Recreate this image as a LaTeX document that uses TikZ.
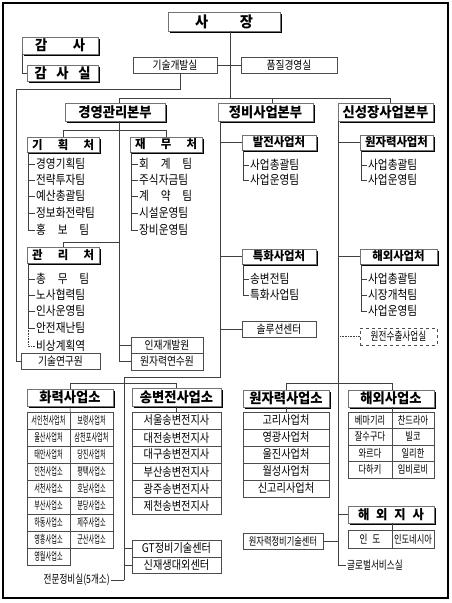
\documentclass[tikz,border=0pt]{standalone}
\usepackage{fontspec}
\setmainfont{Noto Sans CJK KR}
\newfontfamily\krm{Noto Sans CJK KR}[FakeStretch=0.85]
\newfontfamily\krc{Noto Sans CJK KR}[FakeStretch=0.75]
\newfontfamily\krn{Noto Sans CJK KR}[FakeStretch=0.56]
\newfontfamily\krb{Noto Sans CJK KR}[FakeStretch=0.95]
\usetikzlibrary{shadows,calc}
\newcommand\fs[1]{\fontsize{#1}{#1}\selectfont}
\newcommand\OB[7][]{\node[#2,minimum width={#5pt-#3pt},minimum height={#6pt-#4pt},#1] (#7) at ({(#3+#5)/2},{(#4+#6)/2})}
\begin{document}
\begin{tikzpicture}[x=1pt,y=-1pt,
 conn/.style={draw=black!75,line width=0.6pt},
 hbx/.style={draw=black!55,line width=0.5pt,fill=white,inner sep=0pt,drop shadow={shadow xshift=1.5pt,shadow yshift=-1.5pt,opacity=1,fill=black},font={\krb\bfseries\fs{14}}},
 hbs/.style={hbx,font={\krb\bfseries\fs{12}}},
 pbx/.style={draw=black!70,line width=0.5pt,fill=white,inner sep=0pt,drop shadow={shadow xshift=0.8pt,shadow yshift=-0.8pt,opacity=1,fill=black!85},font={\krm\fs{11.5}}},
 dbx/.style={draw=black!70,dashed,line width=0.5pt,fill=white,inner sep=0pt,font={\krc\fs{11.5}}},
 cel/.style={draw=black!70,line width=0.5pt,fill=white,inner sep=0pt},
 itm/.style={anchor=west,inner sep=1pt,font={\krm\fs{12.5}}},
]
\useasboundingbox (0,0) rectangle (452,603);
\draw[line width=1.4pt] (3,3) rectangle (448,598);

% top
\OB[font={\krb\bfseries\fs{15}}]{hbx}{168}{12}{280}{31}{boss}{\makebox[58pt]{사\hfill 장}};
\OB{hbx}{22}{37}{98}{54}{gam}{\makebox[50pt]{감\hfill 사}};
\OB{hbx}{27}{65}{98}{81}{gams}{\makebox[56pt]{감\hfill 사\hfill 실}};
\draw[conn] ([xshift=0.6pt]gam.south west) |- (gams.west);

\OB{pbx}{133}{57}{217}{73}{tech}{기술개발실};
\OB{pbx}{241}{57}{337}{73}{qual}{품질경영실};
\coordinate (j0) at (230,98);
\draw[conn] (boss.south -| j0) -- (j0);
\draw[conn] (tech.east) -- (qual.west);

% headquarters
\OB{hbx}{65}{103}{165}{121}{hq1}{경영관리본부};
\OB{hbx}{218}{103}{313}{121}{hq2}{정비사업본부};
\OB{hbx}{338}{103}{433}{121}{hq3}{신성장사업본부};
\coordinate (b1) at (119,98); \coordinate (b2) at (272,98); \coordinate (b3) at (390,98);
\draw[conn] (b1 |- hq1.north) -- (b1) -- (b3) -- (b3 |- hq3.north);
\draw[conn] (b2) -- (b2 |- hq2.north);

% tech dev route to lab
\coordinate (t1) at (180,89); \coordinate (t2) at (16,89);
\OB{pbx}{21}{353}{100}{369}{lab}{기술연구원};
\draw[conn] (tech.south -| t1) -- (t1) -- (t2) |- (lab.west);

% management spine
\coordinate (s1) at (119,361.5);
\draw[conn] (hq1.south -| s1) -- (s1);

\OB{hbs}{27}{137}{99}{152}{kh}{\makebox[62pt]{기\hfill 획\hfill 처}};
\OB{hbs}{130}{137}{202}{152}{jm}{\makebox[62pt]{재\hfill 무\hfill 처}};
\draw[conn] (kh.north) -- ++(0,-6) -| (jm.north);

\node[itm] (k1) at (35,164) {경영기획팀};
\node[itm] (k2) at (35,180) {전략투자팀};
\node[itm] (k3) at (35,196) {예산총괄팀};
\node[itm] (k4) at (35,213) {정보화전략팀};
\node[itm] (k5) at (35,230) {\makebox[53pt]{홍\hfill 보\hfill 팀}};
\coordinate (kt) at ([xshift=1.5pt]kh.south west);
\draw[conn] (kt) |- (k5.west);
\foreach \k in {k1,k2,k3,k4} \draw[conn] (\k.west) -- (\k.west -| kt);

\node[itm] (m1) at (138,164) {\makebox[53pt]{회\hfill 계\hfill 팀}};
\node[itm] (m2) at (138,180) {주식자금팀};
\node[itm] (m3) at (138,196) {\makebox[53pt]{계\hfill 약\hfill 팀}};
\node[itm] (m4) at (138,213) {시설운영팀};
\node[itm] (m5) at (138,230) {장비운영팀};
\coordinate (mt) at ([xshift=1.5pt]jm.south west);
\draw[conn] (mt) |- (m5.west);
\foreach \k in {m1,m2,m3,m4} \draw[conn] (\k.west) -- (\k.west -| mt);

\OB{hbs}{27}{247}{99}{263}{gw}{\makebox[62pt]{관\hfill 리\hfill 처}};
\coordinate (g0) at (119,242);
\draw[conn] (g0) -| (gw.north);
\node[itm] (g1) at (35,279) {\makebox[53pt]{총\hfill 무\hfill 팀}};
\node[itm] (g2) at (35,295) {노사협력팀};
\node[itm] (g3) at (35,311) {인사운영팀};
\node[itm] (g4) at (35,328) {안전재난팀};
\node[itm] (g5) at (35,346) {비상계획역};
\coordinate (gtr) at ([xshift=1.5pt]gw.south west);
\draw[conn] (gtr) |- (g4.west);
\foreach \k in {g1,g2,g3} \draw[conn] (\k.west) -- (\k.west -| gtr);
\draw[conn,densely dotted] (gtr |- g4.west) |- (g5.west);

\OB{pbx}{131}{337}{203}{353}{inj}{인재개발원};
\OB{pbx}{131}{353}{203}{370}{wys}{원자력연수원};
\draw[conn] (inj.west -| s1) -- (inj.west);
\draw[conn] (s1) -- (wys.west);

% maintenance spine
\coordinate (s2) at (220,377); \coordinate (s2b) at (124,377); \coordinate (s2c) at (124,580);
\draw[conn] (hq2.south -| s2) -- (s2) -- (s2b) -- (s2c);
\OB{hbs}{242}{135}{316}{150}{bj}{발전사업처};
\OB{hbs}{242}{249}{316}{264}{th}{특화사업처};
\OB{pbx}{242}{321}{316}{337}{sol}{솔루션센터};
\foreach \k in {bj,th,sol} \draw[conn] (\k.west -| s2) -- (\k.west);
\node[itm] (bj1) at (249,165) {사업총괄팀};
\node[itm] (bj2) at (249,180) {사업운영팀};
\coordinate (bt) at ([xshift=1.5pt]bj.south west);
\draw[conn] (bt) |- (bj2.west);
\draw[conn] (bj1.west) -- (bj1.west -| bt);
\node[itm] (th1) at (249,279) {송변전팀};
\node[itm] (th2) at (249,295) {특화사업팀};
\coordinate (tht) at ([xshift=1.5pt]th.south west);
\draw[conn] (tht) |- (th2.west);
\draw[conn] (th1.west) -- (th1.west -| tht);

% new growth spine
\node[itm,font={\krc\fs{11.5}}] (gl) at (346,565) {글로벌서비스실};
\coordinate (s3) at ([xshift=0.6pt]hq3.south west);
\draw[conn] (s3) |- (gl.west);
\OB{hbs}{360}{135}{433}{150}{wj}{원자력사업처};
\OB{hbs}{360}{249}{437}{264}{hw}{해외사업처};
\OB{dbx}{360}{328}{437}{345}{wo}{원전수출사업실};
\draw[conn] (wj.west -| s3) -- (wj.west);
\draw[conn] (hw.west -| s3) -- (hw.west);
\draw[conn,densely dotted] (wo.west -| s3) -- (wo.west);
\node[itm] (wj1) at (367,165) {사업총괄팀};
\node[itm] (wj2) at (367,180) {사업운영팀};
\coordinate (wjt) at ([xshift=1.5pt]wj.south west);
\draw[conn] (wjt) |- (wj2.west);
\draw[conn] (wj1.west) -- (wj1.west -| wjt);
\node[itm] (hw1) at (367,279) {사업총괄팀};
\node[itm] (hw2) at (367,295) {시장개척팀};
\node[itm] (hw3) at (367,311) {사업운영팀};
\coordinate (hwt) at ([xshift=1.5pt]hw.south west);
\draw[conn] (hwt) |- (hw3.west);
\foreach \k in {hw1,hw2} \draw[conn] (\k.west) -- (\k.west -| hwt);

% lower offices
\OB{hbx}{27}{389}{113}{406}{hr}{화력사업소};
\OB{hbx}{132}{388}{221}{406}{sb}{송변전사업소};
\OB{hbx}{243}{390}{329}{407}{ws}{원자력사업소};
\OB{hbx}{348}{390}{434}{407}{hs}{해외사업소};
\coordinate (h0) at (70,383); \coordinate (h1) at (176.5,383);
\draw[conn] (hr.north) -- (h0) -- (h1) -- (sb.north);
\coordinate (w0) at (286,383); \coordinate (w1) at (392,383);
\draw[conn] (ws.north -| w0) -- (w0) -- (w1) -- (hs.north -| w1);

\foreach \i/\a/\b in {0/서인천사업처/보령사업처,1/울산사업처/삼천포사업처,2/태안사업처/당진사업처,3/인천사업소/평택사업소,4/서천사업소/호남사업소,5/부산사업소/분당사업소,6/하동사업소/제주사업소,7/영흥사업소/군산사업소}{
 \node[cel,font={\krn\fs{11}},minimum width=43pt,minimum height=17pt] (ha\i) at (48.5,{420.5+17*\i}) {\a};
 \node[cel,font={\krn\fs{11}},minimum width=43pt,minimum height=17pt] (hb\i) at (91.5,{420.5+17*\i}) {\b};
}
\node[cel,font={\krn\fs{11}},minimum width=43pt,minimum height=17pt] (ha8) at (48.5,556.5) {영월사업소};
\draw[conn] (hr.south) -- (ha0.north east);

\foreach \i/\a in {0/서울송변전지사,1/대전송변전지사,2/대구송변전지사,3/부산송변전지사,4/광주송변전지사,5/제천송변전지사}
 \node[cel,font={\krm\fs{12}},minimum width=89pt,minimum height=17pt] (sl\i) at (176.5,{420.5+17*\i}) {\a};
\draw[conn] (sb.south) -- (sl0.north);

\foreach \i/\a in {0/고리사업처,1/영광사업처,2/울진사업처,3/월성사업처,4/신고리사업처}
 \node[cel,font={\krm\fs{12}},minimum width=86pt,minimum height=17pt] (wl\i) at (286,{420.5+17*\i}) {\a};
\draw[conn] (ws.south) -- (wl0.north);

\foreach \i/\a/\b in {0/베마기리/찬드라아,1/잘수구다/빌코,2/와르다/일리한,3/다하키/임비로비}{
 \node[cel,font={\krc\fs{11}},minimum width=44pt,minimum height=16.5pt] (ga\i) at (370,{420.25+16.5*\i}) {\a};
 \node[cel,font={\krc\fs{11}},minimum width=42pt,minimum height=16.5pt] (gb\i) at (413,{420.25+16.5*\i}) {\b};
}
\draw[conn] (hs.south -| ga0.north east) -- (ga0.north east);

\OB[font={\krb\bfseries\fs{13}}]{hbx}{348}{506}{434}{523}{hj}{\makebox[66pt]{해\hfill 외\hfill 지\hfill 사}};
\node[cel,font={\krc\fs{11.5}},minimum width=44pt,minimum height=18pt] (ja) at (370,539) {인\hspace{5pt}도};
\node[cel,font={\krc\fs{11}},minimum width=42pt,minimum height=18pt] (jb) at (413,539) {인도네시아};
\draw[conn] (hj.south -| ja.north east) -- (ja.north east);
\draw[conn] (hj.west -| s3) -- (hj.west);

\OB[font={\krc\fs{11}}]{pbx}{243}{533}{323}{549}{wc}{원자력정비기술센터};
\draw[conn] (wc.east) -- (wc.east -| s3);

\OB[font={\krm\fs{12}}]{pbx}{132}{540}{221}{557}{gt}{GT정비기술센터};
\OB[font={\krm\fs{12}}]{pbx}{132}{557}{221}{573}{sj}{신재생대외센터};
\draw[conn] (gt.west -| s2c) -- (gt.west);
\draw[conn] (sj.west -| s2c) -- (sj.west);
\node[anchor=east,inner sep=1pt,font={\krc\fs{11.5}}] (jmn) at (111,580) {전문정비실(5개소)};
\draw[conn] (jmn.east) -- (s2c);
\end{tikzpicture}
\end{document}
